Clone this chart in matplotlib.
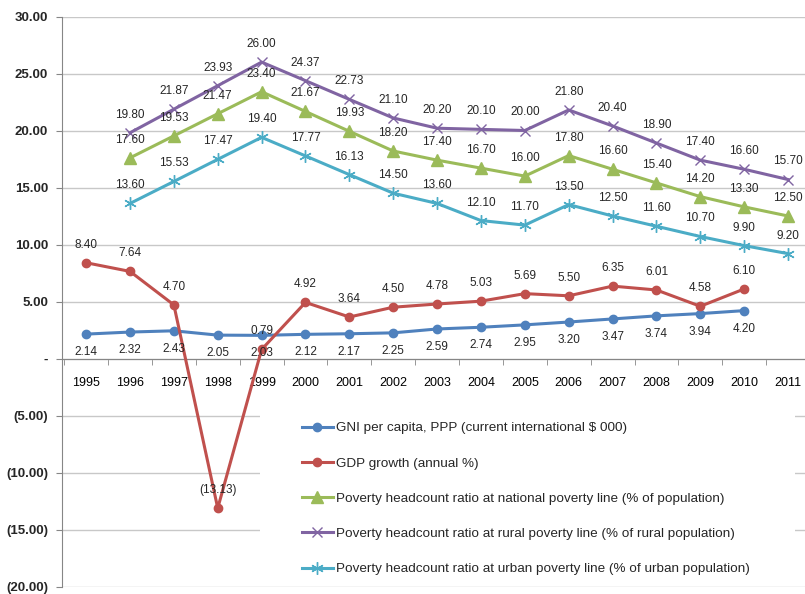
import matplotlib
matplotlib.use("Agg")
import matplotlib.pyplot as plt
from matplotlib.ticker import FuncFormatter, FixedLocator
from matplotlib.patches import Rectangle

plt.rcParams['font.family'] = ['Liberation Sans', 'DejaVu Sans']

years = [str(y) for y in range(1995, 2012)]

gni = [2.14, 2.32, 2.43, 2.05, 2.03, 2.12, 2.17, 2.25, 2.59, 2.74, 2.95, 3.20, 3.47, 3.74, 3.94, 4.20]
gdp = [8.40, 7.64, 4.70, -13.13, 0.79, 4.92, 3.64, 4.50, 4.78, 5.03, 5.69, 5.50, 6.35, 6.01, 4.58, 6.10]
national = [17.60, 19.53, 21.47, 23.40, 21.67, 19.93, 18.20, 17.40, 16.70, 16.00, 17.80, 16.60, 15.40, 14.20, 13.30, 12.50]
rural = [19.80, 21.87, 23.93, 26.00, 24.37, 22.73, 21.10, 20.20, 20.10, 20.00, 21.80, 20.40, 18.90, 17.40, 16.60, 15.70]
urban = [13.60, 15.53, 17.47, 19.40, 17.77, 16.13, 14.50, 13.60, 12.10, 11.70, 13.50, 12.50, 11.60, 10.70, 9.90, 9.20]

labels = [
    "GNI per capita, PPP (current international $ 000)",
    "GDP growth (annual %)",
    "Poverty headcount ratio at national poverty line (% of population)",
    "Poverty headcount ratio at rural poverty line (% of rural population)",
    "Poverty headcount ratio at urban poverty line (% of urban population)",
]

W, H = 805, 594
fig = plt.figure(figsize=(W / 100, H / 100), dpi=100)
ax = fig.add_axes([62 / W, 1 - 586.5 / H, (810 - 62) / W, (586.5 - 16.5) / H])

def fmt_val(v):
    if v < 0:
        return "({:.2f})".format(-v)
    return "{:.2f}".format(v)

series = [
    (list(range(0, 16)), gni, '#4F81BD', dict(marker='o', markersize=6), -13),
    (list(range(0, 16)), gdp, '#C0504D', dict(marker='o', markersize=6), 13),
    (list(range(1, 17)), national, '#9BBB59', dict(marker='^', markersize=8), 13),
    (list(range(1, 17)), rural, '#8064A2', dict(marker='x', markersize=7, markeredgewidth=1.0), 13),
    (list(range(1, 17)), urban, '#4BACC6', dict(marker=(6, 2, 0), markersize=9, markeredgewidth=1.0), 13),
]

for (xs, ys, col, mk, off), lab in zip(series, labels):
    ax.plot(xs, ys, color=col, lw=2.2, label=lab, zorder=3, **mk)
    for x, y in zip(xs, ys):
        ax.annotate(fmt_val(y), (x, y), xytext=(0, off), textcoords='offset points',
                    ha='center', va='center', fontsize=8.5, color='#262626', zorder=4)

ax.set_ylim(-20, 30)
ax.set_xlim(-0.55, 16.5)
ax.set_yticks(range(-20, 31, 5))

def yfmt(v, pos):
    if abs(v) < 1e-9:
        return "-"
    if v < 0:
        return "({:.2f})".format(-v)
    return "{:.2f}".format(v)

ax.yaxis.set_major_formatter(FuncFormatter(yfmt))
ax.yaxis.grid(True, color='#c8c8c8', lw=1.0, zorder=0)
ax.set_axisbelow(True)

ax.set_xticks(range(len(years)))
ax.set_xticklabels(years)
ax.xaxis.set_minor_locator(FixedLocator([i + 0.5 for i in range(-1, 17)]))
ax.tick_params(axis='x', which='major', length=0, pad=13, labelsize=9)
ax.tick_params(axis='x', which='minor', length=4, color='#868686', direction='out')
ax.tick_params(axis='y', length=4, color='#868686', labelsize=9.5, pad=6)
for t in ax.get_xticklabels() + ax.get_yticklabels():
    t.set_fontweight('bold')
    t.set_color('#262626')

ax.spines['bottom'].set_position(('data', 0))
ax.spines['bottom'].set_color('#868686')
ax.spines['left'].set_color('#868686')
ax.spines['top'].set_visible(False)
ax.spines['right'].set_visible(False)

# white legend area covering gridlines
ax.add_patch(Rectangle((260 / W, 1 - 580 / H), (795 - 260) / W, (580 - 402) / H,
                       transform=fig.transFigure, facecolor='white', edgecolor='none',
                       zorder=1, clip_on=False))

leg = ax.legend(loc='upper left', bbox_to_anchor=(302 / W, 1 - 422 / H),
                bbox_transform=fig.transFigure, frameon=False, fontsize=9.7,
                labelspacing=1.69, handlelength=2.3, handletextpad=0.25, borderpad=0,
                borderaxespad=0, labelcolor='#262626')
leg.set_zorder(5)
for h in leg.get_lines():
    h.set_linewidth(2.2)

fig.savefig("out.png", dpi=100)
